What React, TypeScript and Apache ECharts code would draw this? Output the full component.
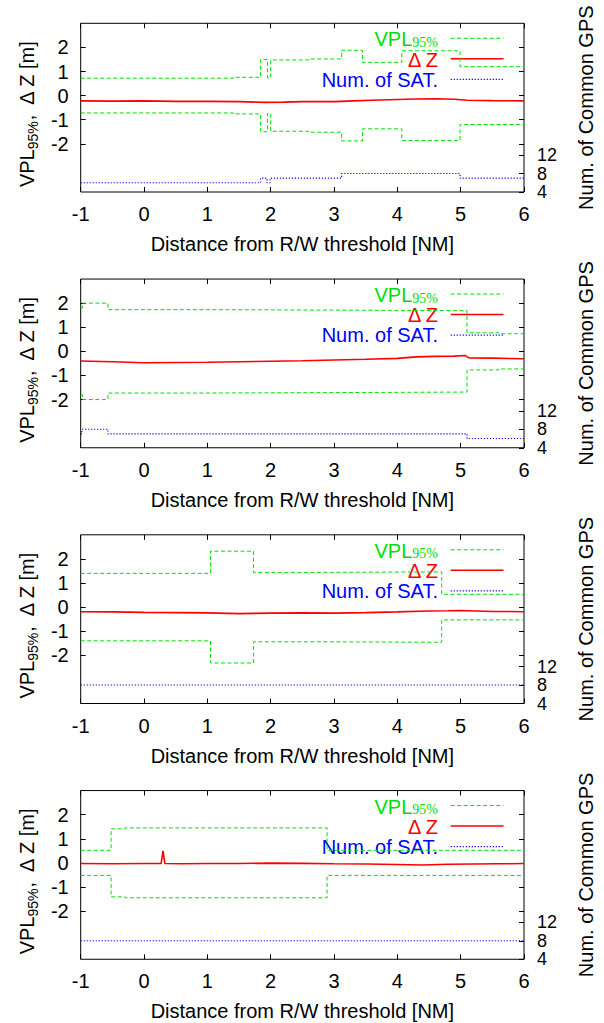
import React, { useEffect, useRef } from "react";
import * as echarts from "echarts";

const FONT = '"Liberation Sans", Arial, Helvetica, sans-serif';
const SERIF = '"Liberation Serif", "Times New Roman", serif';
const GREEN = "#00e000";
const RED = "#ff0000";
const BLUE = "#0000ff";

const X_TICKS = [-1, 0, 1, 2, 3, 4, 5, 6];
const LEFT_TICKS = [-2, -1, 0, 1, 2];
const RIGHT_TICKS = [4, 8, 12];
const RIGHT_LABELS_OUTER = [4, 12];
const RIGHT_LABELS_MID = [8];

const X_TITLE = "Distance from R/W threshold [NM]";
const RIGHT_TITLE = "Num. of Common GPS";

// ---- Panel 1 ----
const p1VplX = [-1, 1.41, 1.84, 1.95, 2.0, 2.6, 3.12, 3.45, 4.07, 4.99, 6];
const p1Vpl = [0.72, 0.76, 1.5, 0.74, 1.48, 1.52, 1.88, 1.38, 1.86, 1.2, 1.2];
const p1SatX = [-1, 1.84, 1.94, 1.99, 3.12, 4.99, 6];
const p1Sat = [6, 7, 6, 7, 8, 7, 7];
const p1DzX = [-1, -0.5, 0, 0.5, 1, 1.5, 1.9, 2.2, 2.5, 3, 3.3, 3.6, 4, 4.3, 4.6, 4.9, 5.1, 5.5, 6];
const p1Dz = [-0.22, -0.23, -0.22, -0.24, -0.24, -0.25, -0.28, -0.27, -0.25, -0.25, -0.22, -0.19, -0.16, -0.14, -0.13, -0.15, -0.19, -0.21, -0.22];

// ---- Panel 2 ----
const p2VplX = [-1, -0.97, -0.57, 1.0, 3.0, 5.1, 5.6, 6];
const p2Vpl = [1.8, 2.0, 1.73, 1.71, 1.69, 0.77, 0.73, 0.73];
const p2SatX = [-1, -0.98, -0.57, 5.1, 6];
const p2Sat = [7, 8, 7, 6, 6];
const p2DzX = [-1, -0.5, 0, 0.5, 1, 1.5, 2, 2.5, 3, 3.5, 4, 4.3, 4.6, 4.9, 5.07, 5.13, 5.5, 6];
const p2Dz = [-0.4, -0.43, -0.47, -0.46, -0.45, -0.43, -0.41, -0.39, -0.36, -0.33, -0.29, -0.23, -0.21, -0.2, -0.17, -0.27, -0.28, -0.31];

// ---- Panel 3 ----
const p3VplX = [-1, 1.05, 1.73, 2.7, 4.7, 6];
const p3Vpl = [1.4, 2.32, 1.44, 1.46, 0.53, 0.53];
const p3SatX = [-1, 6];
const p3Sat = [8, 8];
const p3DzX = [-1, -0.5, 0, 0.5, 1, 1.5, 2, 2.5, 3, 3.5, 4, 4.5, 4.8, 5, 5.5, 6];
const p3Dz = [-0.19, -0.2, -0.22, -0.23, -0.24, -0.27, -0.25, -0.24, -0.25, -0.23, -0.2, -0.16, -0.15, -0.14, -0.18, -0.19];

// ---- Panel 4 ----
const p4VplX = [-1, -0.52, -0.3, 2.89, 6];
const p4Vpl = [0.52, 1.41, 1.45, 0.52, 0.52];
const p4SatX = [-1, 6];
const p4Sat = [8, 8];
const p4DzX = [-1, -0.5, 0, 0.27, 0.3, 0.33, 0.6, 1, 1.5, 2, 2.5, 3, 3.5, 4, 4.4, 4.8, 5.2, 5.6, 6];
const p4Dz = [-0.03, -0.04, -0.03, -0.03, 0.5, -0.03, -0.04, -0.03, -0.03, -0.01, -0.02, -0.04, -0.05, -0.07, -0.09, -0.06, -0.05, -0.04, -0.03];

const PANELS = [
  { vplX: p1VplX, vpl: p1Vpl, satX: p1SatX, sat: p1Sat, dzX: p1DzX, dz: p1Dz },
  { vplX: p2VplX, vpl: p2Vpl, satX: p2SatX, sat: p2Sat, dzX: p2DzX, dz: p2Dz },
  { vplX: p3VplX, vpl: p3Vpl, satX: p3SatX, sat: p3Sat, dzX: p3DzX, dz: p3Dz },
  { vplX: p4VplX, vpl: p4Vpl, satX: p4SatX, sat: p4Sat, dzX: p4DzX, dz: p4Dz },
];

const PITCH = 255.75;
const PLOT_TOP = 23.3;
const PLOT_H = 168.7;
const PLOT_LEFT = 80.7;
const PLOT_RIGHT_EDGE = 528;
const SAT_MIN = 4;
const SAT_MAX = 40.5;

const zip = (xs: number[], ys: number[]) => xs.map((x, i) => [x, ys[i]]);

function buildOption() {
  const grid: any[] = [];
  const xAxis: any[] = [];
  const yAxis: any[] = [];
  const series: any[] = [];
  const graphic: any[] = [];

  const tickStyle = { color: "#000", width: 1 };
  const labelStyle = { color: "#000", fontSize: 20, fontFamily: FONT };
  const rightLabelStyle = { color: "#000", fontSize: 18, fontFamily: FONT };
  const noLine = { show: false, onZero: false };

  PANELS.forEach((p, i) => {
    const top = PLOT_TOP + i * PITCH;
    grid.push({
      left: PLOT_LEFT,
      width: PLOT_RIGHT_EDGE - PLOT_LEFT,
      top,
      height: PLOT_H,
      show: true,
      borderColor: "#000",
      borderWidth: 1,
      backgroundColor: "transparent",
    });
    // bottom x axis
    xAxis.push({
      gridIndex: i,
      type: "value",
      position: "bottom",
      min: -1,
      max: 6,
      interval: 1,
      axisLine: noLine,
      axisTick: { show: true, inside: true, length: 5, lineStyle: tickStyle, customValues: X_TICKS },
      axisLabel: { ...labelStyle, margin: 12, customValues: X_TICKS, showMinLabel: true, showMaxLabel: true },
      splitLine: { show: false },
      name: X_TITLE,
      nameLocation: "middle",
      nameGap: 42,
      nameTextStyle: { ...labelStyle },
    });
    // top mirror x axis
    xAxis.push({
      gridIndex: i,
      type: "value",
      position: "top",
      min: -1,
      max: 6,
      interval: 1,
      axisLine: noLine,
      axisTick: { show: true, inside: true, length: 5, lineStyle: tickStyle, customValues: X_TICKS },
      axisLabel: { show: false },
      splitLine: { show: false },
    });
    // left y axis (index 4i)
    yAxis.push({
      gridIndex: i,
      type: "value",
      position: "left",
      min: -4,
      max: 3,
      interval: 1,
      axisLine: noLine,
      axisTick: { show: true, inside: true, length: 5, lineStyle: tickStyle, customValues: LEFT_TICKS },
      axisLabel: { ...labelStyle, margin: 12, customValues: LEFT_TICKS, showMinLabel: true, showMaxLabel: true },
      splitLine: { show: false },
      name: "{a|VPL}{s|95%}{a|,  \u0394 Z [m]}",
      nameLocation: "middle",
      nameRotate: 90,
      nameGap: 44,
      nameTextStyle: {
        color: "#000",
        padding: [0, 12, 0, 0],
        rich: {
          a: { fontSize: 20, fontFamily: FONT, color: "#000", lineHeight: 20, verticalAlign: "top" },
          s: { fontSize: 14, fontFamily: FONT, color: "#000", lineHeight: 14, verticalAlign: "top", padding: [9, 0, 0, 0] },
        },
      },
    });
    // right y axis (satellites) with ticks and outer labels (index 4i+1)
    yAxis.push({
      gridIndex: i,
      type: "value",
      position: "right",
      min: SAT_MIN,
      max: SAT_MAX,
      axisLine: noLine,
      axisTick: { show: true, inside: true, length: 5, lineStyle: tickStyle, customValues: RIGHT_TICKS },
      axisLabel: {
        ...rightLabelStyle,
        margin: 13,
        customValues: RIGHT_LABELS_OUTER,
        showMinLabel: true,
        showMaxLabel: true,
      },
      splitLine: { show: false },
      name: RIGHT_TITLE,
      nameLocation: "middle",
      nameRotate: 90,
      nameGap: 52,
      nameTextStyle: { ...labelStyle },
    });
    // right y axis (satellites) middle label only (index 4i+2)
    yAxis.push({
      gridIndex: i,
      type: "value",
      position: "right",
      min: SAT_MIN,
      max: SAT_MAX,
      axisLine: noLine,
      axisTick: { show: false },
      axisLabel: {
        ...rightLabelStyle,
        margin: 13,
        customValues: RIGHT_LABELS_MID,
        showMinLabel: true,
        showMaxLabel: true,
      },
      splitLine: { show: false },
    });
    // right mirror of left axis (index 4i+3)
    yAxis.push({
      gridIndex: i,
      type: "value",
      position: "right",
      min: -4,
      max: 3,
      interval: 1,
      axisLine: noLine,
      axisTick: { show: true, inside: true, length: 5, lineStyle: tickStyle, customValues: LEFT_TICKS },
      axisLabel: { show: false },
      splitLine: { show: false },
    });

    const xi = 2 * i;
    const yi = 4 * i;
    series.push({
      type: "line",
      name: "VPL95%",
      xAxisIndex: xi,
      yAxisIndex: yi,
      data: zip(p.vplX, p.vpl),
      step: "end",
      symbol: "none",
      lineStyle: { color: GREEN, width: 1, type: [4, 2.5] },
    });
    series.push({
      type: "line",
      name: "VPL95%",
      xAxisIndex: xi,
      yAxisIndex: yi,
      data: zip(p.vplX, p.vpl.map((v) => -v)),
      step: "end",
      symbol: "none",
      lineStyle: { color: GREEN, width: 1, type: [4, 2.5] },
    });
    series.push({
      type: "line",
      name: "\u0394 Z",
      xAxisIndex: xi,
      yAxisIndex: yi,
      data: zip(p.dzX, p.dz),
      symbol: "none",
      lineStyle: { color: RED, width: 1.6 },
    });
    series.push({
      type: "line",
      name: "Num. of SAT.",
      xAxisIndex: xi,
      yAxisIndex: yi + 1,
      data: zip(p.satX, p.sat),
      step: "end",
      symbol: "none",
      lineStyle: { color: BLUE, width: 1.2, type: [1.2, 1.8] },
    });

    // legend (gnuplot key)
    const rows = [top + 14, top + 36.3, top + 56.3];
    const lineRows = [top + 15, top + 35.5, top + 56];
    const tx = 438;
    const lx1 = 450.7;
    const lx2 = 503.5;
    graphic.push({
      type: "group",
      silent: true,
      children: [
        {
          type: "text",
          x: tx,
          y: rows[0],
          style: {
            text: "{a|VPL}{s|95%}",
            align: "right",
            verticalAlign: "middle",
            textAlign: "right",
            textVerticalAlign: "middle",
            rich: {
              a: { fontSize: 20, fontFamily: FONT, fill: GREEN, color: GREEN, lineHeight: 16, verticalAlign: "top" },
              s: { fontSize: 14, fontFamily: SERIF, fill: GREEN, color: GREEN, lineHeight: 12, verticalAlign: "top", padding: [6, 0, 0, 0] },
            },
          },
        },
        {
          type: "line",
          shape: { x1: lx1, y1: lineRows[0], x2: lx2, y2: lineRows[0] },
          style: { stroke: GREEN, lineWidth: 1, lineDash: [4, 2.5] },
        },
        {
          type: "text",
          x: tx,
          y: rows[1],
          style: {
            text: "\u0394 Z",
            fill: RED,
            font: `20px ${FONT}`,
            fontSize: 20,
            fontFamily: FONT,
            align: "right",
            verticalAlign: "middle",
            textAlign: "right",
            textVerticalAlign: "middle",
          },
        },
        {
          type: "line",
          shape: { x1: lx1, y1: lineRows[1], x2: lx2, y2: lineRows[1] },
          style: { stroke: RED, lineWidth: 1.6 },
        },
        {
          type: "text",
          x: tx,
          y: rows[2],
          style: {
            text: "Num. of SAT.",
            fill: BLUE,
            font: `20px ${FONT}`,
            fontSize: 20,
            fontFamily: FONT,
            align: "right",
            verticalAlign: "middle",
            textAlign: "right",
            textVerticalAlign: "middle",
          },
        },
        {
          type: "line",
          shape: { x1: lx1, y1: lineRows[2], x2: lx2, y2: lineRows[2] },
          style: { stroke: BLUE, lineWidth: 1.2, lineDash: [1.2, 1.8] },
        },
      ],
    });
  });

  return {
    animation: false,
    backgroundColor: "#ffffff",
    grid,
    xAxis,
    yAxis,
    series,
    graphic,
  };
}

export default function App() {
  const ref = useRef<HTMLDivElement>(null);
  useEffect(() => {
    document.body.style.margin = "0";
    if (!ref.current) return;
    const chart = echarts.init(ref.current, undefined, { renderer: "svg" });
    chart.setOption(buildOption() as any);
    return () => chart.dispose();
  }, []);
  return <div ref={ref} style={{ width: 604, height: 1023 }} />;
}
